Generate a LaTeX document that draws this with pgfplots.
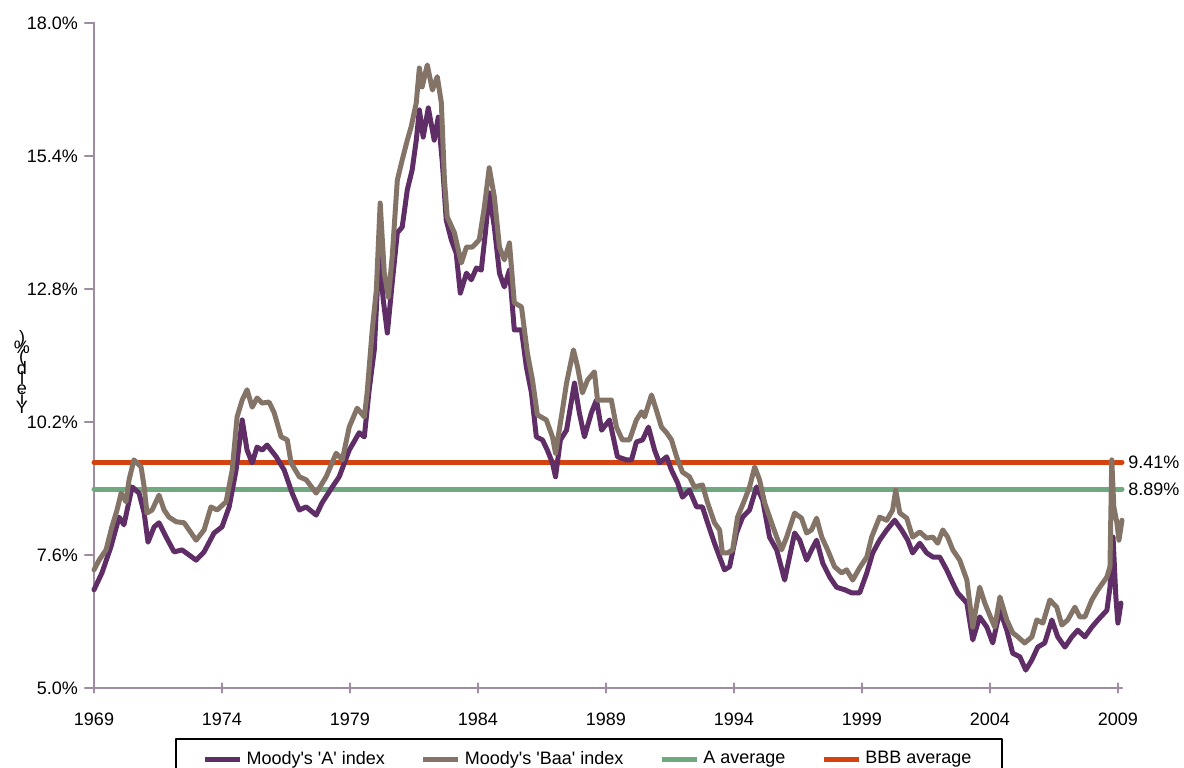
\documentclass[border=0pt]{standalone}
\usepackage{pgfplots}
\pgfplotsset{compat=1.18}
\usepackage{fontspec}
\setmainfont{Liberation Sans}
\definecolor{axcol}{RGB}{158,140,162}
\definecolor{Acol}{RGB}{96,46,102}
\definecolor{Baacol}{RGB}{132,116,104}
\definecolor{avgA}{RGB}{112,168,128}
\definecolor{avgB}{RGB}{212,66,16}
\begin{document}
\begin{tikzpicture}
\useasboundingbox (-47pt,-39.5pt) rectangle (545pt,344pt);
\begin{axis}[
  scale only axis, width=514pt, height=332.5pt,
  at={(0,0)}, anchor=south west,
  xmin=1969, xmax=2009.16, ymin=5, ymax=18,
  axis lines*=left,
  axis line style={axcol, line width=1.2pt},
  every tick/.style={axcol, line width=1.2pt},
  tick align=outside, major tick length=4.5pt,
  x tick style={yshift=2.25pt},
  xtick={1969,1974,1979,1984,1989,1994,1999,2004,2009},
  xticklabels={1969,1974,1979,1984,1989,1994,1999,2004,2009},
  ytick={5,7.6,10.2,12.8,15.4,18},
  yticklabels={5.0\%,7.6\%,10.2\%,12.8\%,15.4\%,18.0\%},
  tick label style={font=\fontsize{9}{11}\selectfont, black},
  xticklabel style={yshift=-4.5pt},
  yticklabel style={xshift=0pt},
  clip=false,
  legend columns=4,
  legend style={at={(0.4815,-0.0752)}, anchor=north, draw=black, line width=1pt,
    font=\fontsize{9}{11}\selectfont, inner xsep=13.5pt, inner ysep=4pt,
    /tikz/every even column/.append style={column sep=16pt}},
  legend image code/.code={\draw[#1] (0pt,0pt) -- (17.5pt,0pt);},
  line join=round, line cap=round,
]
\addplot[avgA, line width=2.5pt, forget plot] coordinates {(1969,8.89) (2009.16,8.89)};
\addplot[avgB, line width=2.5pt, forget plot] coordinates {(1969,9.41) (2009.16,9.41)};
\addplot[Acol, line width=2.5pt] coordinates {
(1969.00,6.92) (1969.31,7.25) (1969.66,7.76) (1969.98,8.34) (1970.17,8.19) (1970.49,8.93) (1970.76,8.81) (1970.96,8.42) (1971.11,7.85) (1971.35,8.15) (1971.54,8.23) (1971.82,7.95) (1972.13,7.66) (1972.44,7.70) (1972.99,7.50) (1973.30,7.66) (1973.69,8.03) (1974.00,8.15) (1974.28,8.54) (1974.55,9.26) (1974.79,10.24) (1974.98,9.65) (1975.18,9.40) (1975.37,9.71) (1975.57,9.65) (1975.76,9.75) (1976.12,9.52) (1976.43,9.26) (1976.74,8.81) (1977.02,8.48) (1977.29,8.54) (1977.68,8.38) (1977.91,8.62) (1978.31,8.93) (1978.58,9.13) (1978.97,9.65) (1979.36,9.99) (1979.56,9.91) (1979.75,10.83) (1979.95,11.61) (1980.14,13.50) (1980.30,12.59) (1980.46,11.94) (1980.65,12.92) (1980.85,13.90) (1981.04,14.01) (1981.24,14.74) (1981.43,15.13) (1981.59,15.71) (1981.71,16.30) (1981.86,15.77) (1982.06,16.34) (1982.29,15.71) (1982.45,16.16) (1982.61,15.26) (1982.76,14.15) (1982.96,13.76) (1983.15,13.50) (1983.31,12.72) (1983.55,13.11) (1983.74,12.98) (1983.94,13.21) (1984.13,13.17) (1984.29,13.90) (1984.44,14.68) (1984.64,14.01) (1984.84,13.11) (1985.03,12.84) (1985.23,13.17) (1985.42,12.00) (1985.70,12.00) (1985.89,11.28) (1986.09,10.77) (1986.28,9.91) (1986.52,9.85) (1986.71,9.65) (1986.91,9.40) (1987.03,9.13) (1987.22,9.85) (1987.46,10.04) (1987.77,10.96) (1987.96,10.38) (1988.16,9.91) (1988.43,10.38) (1988.63,10.63) (1988.83,10.04) (1989.14,10.24) (1989.45,9.52) (1989.80,9.46) (1990.00,9.46) (1990.19,9.81) (1990.43,9.85) (1990.66,10.10) (1990.90,9.65) (1991.09,9.40) (1991.37,9.52) (1991.56,9.26) (1991.80,9.01) (1991.99,8.73) (1992.26,8.87) (1992.54,8.54) (1992.77,8.54) (1992.97,8.23) (1993.24,7.83) (1993.44,7.56) (1993.63,7.31) (1993.83,7.37) (1994.10,8.03) (1994.34,8.34) (1994.61,8.48) (1994.88,8.93) (1995.12,8.68) (1995.39,7.95) (1995.67,7.70) (1995.98,7.11) (1996.17,7.56) (1996.37,8.03) (1996.57,7.89) (1996.84,7.50) (1997.03,7.70) (1997.23,7.89) (1997.47,7.44) (1997.74,7.17) (1998.01,6.97) (1998.33,6.92) (1998.60,6.86) (1998.91,6.86) (1999.19,7.25) (1999.42,7.64) (1999.69,7.89) (1999.97,8.09) (2000.28,8.28) (2000.55,8.09) (2000.79,7.89) (2000.98,7.64) (2001.26,7.83) (2001.53,7.64) (2001.77,7.56) (2002.04,7.56) (2002.31,7.31) (2002.55,7.05) (2002.74,6.86) (2003.10,6.66) (2003.33,5.94) (2003.60,6.39) (2003.88,6.19) (2004.11,5.88) (2004.39,6.52) (2004.66,6.13) (2004.89,5.68) (2005.17,5.61) (2005.40,5.35) (2005.64,5.55) (2005.87,5.80) (2006.14,5.88) (2006.42,6.33) (2006.65,6.00) (2006.93,5.80) (2007.20,6.00) (2007.43,6.13) (2007.71,6.00) (2007.98,6.19) (2008.22,6.33) (2008.57,6.52) (2008.69,6.97) (2008.81,7.95) (2008.92,6.78) (2009.00,6.27) (2009.12,6.66)
};
\addlegendentry{Moody\textquotesingle s \textquotesingle A\textquotesingle\ index}
\addplot[Baacol, line width=2.5pt] coordinates {
(1969.00,7.31) (1969.20,7.50) (1969.47,7.70) (1969.70,8.15) (1969.90,8.48) (1970.06,8.81) (1970.25,8.64) (1970.37,9.07) (1970.56,9.46) (1970.84,9.32) (1970.96,8.93) (1971.07,8.42) (1971.27,8.48) (1971.54,8.77) (1971.74,8.48) (1971.93,8.34) (1972.21,8.25) (1972.52,8.23) (1972.99,7.89) (1973.30,8.09) (1973.57,8.54) (1973.81,8.48) (1974.16,8.64) (1974.40,9.26) (1974.59,10.30) (1974.79,10.63) (1974.98,10.83) (1975.18,10.49) (1975.37,10.67) (1975.57,10.57) (1975.84,10.59) (1976.04,10.38) (1976.31,9.91) (1976.55,9.85) (1976.70,9.40) (1977.02,9.13) (1977.29,9.07) (1977.68,8.81) (1978.07,9.13) (1978.46,9.59) (1978.70,9.46) (1978.97,10.10) (1979.28,10.47) (1979.56,10.30) (1979.67,10.77) (1979.87,12.00) (1980.03,12.78) (1980.18,14.48) (1980.34,13.11) (1980.50,12.64) (1980.65,13.43) (1980.85,14.93) (1981.04,15.32) (1981.24,15.71) (1981.39,15.97) (1981.59,16.44) (1981.71,17.12) (1981.82,16.75) (1982.02,17.18) (1982.22,16.69) (1982.41,16.95) (1982.57,16.44) (1982.69,14.93) (1982.80,14.21) (1983.08,13.90) (1983.35,13.31) (1983.55,13.62) (1983.78,13.62) (1984.05,13.76) (1984.25,14.40) (1984.44,15.17) (1984.64,14.60) (1984.84,13.62) (1985.03,13.37) (1985.23,13.70) (1985.42,12.53) (1985.70,12.45) (1985.93,11.55) (1986.13,11.02) (1986.32,10.34) (1986.67,10.24) (1986.91,9.91) (1987.03,9.59) (1987.30,10.43) (1987.46,10.96) (1987.73,11.61) (1987.89,11.28) (1988.08,10.77) (1988.28,11.02) (1988.55,11.18) (1988.67,10.63) (1988.94,10.63) (1989.21,10.63) (1989.41,10.10) (1989.64,9.85) (1989.92,9.85) (1990.19,10.24) (1990.39,10.40) (1990.51,10.30) (1990.78,10.73) (1990.97,10.43) (1991.17,10.10) (1991.37,9.99) (1991.56,9.85) (1991.76,9.52) (1991.99,9.22) (1992.26,9.13) (1992.46,8.93) (1992.77,8.97) (1992.97,8.62) (1993.24,8.23) (1993.44,8.09) (1993.55,7.64) (1993.75,7.64) (1993.95,7.70) (1994.14,8.34) (1994.42,8.68) (1994.61,8.93) (1994.81,9.32) (1995.00,9.07) (1995.20,8.62) (1995.47,8.23) (1995.67,7.95) (1995.86,7.70) (1996.06,7.95) (1996.37,8.42) (1996.64,8.32) (1996.84,8.03) (1997.03,8.09) (1997.23,8.32) (1997.43,7.95) (1997.66,7.70) (1997.93,7.37) (1998.21,7.25) (1998.40,7.31) (1998.64,7.11) (1998.91,7.35) (1999.19,7.56) (1999.38,7.95) (1999.69,8.34) (1999.97,8.28) (2000.20,8.48) (2000.32,8.87) (2000.48,8.42) (2000.75,8.32) (2000.98,7.95) (2001.26,8.05) (2001.53,7.93) (2001.77,7.95) (2001.96,7.83) (2002.16,8.09) (2002.35,7.95) (2002.55,7.70) (2002.82,7.50) (2003.10,7.11) (2003.33,6.19) (2003.60,6.97) (2003.80,6.66) (2004.07,6.33) (2004.19,6.19) (2004.39,6.78) (2004.66,6.33) (2004.89,6.08) (2005.09,6.00) (2005.36,5.88) (2005.64,6.00) (2005.83,6.33) (2006.07,6.27) (2006.34,6.72) (2006.61,6.58) (2006.81,6.23) (2007.04,6.33) (2007.32,6.58) (2007.51,6.39) (2007.71,6.39) (2007.98,6.72) (2008.22,6.92) (2008.57,7.17) (2008.69,7.37) (2008.76,9.46) (2008.84,8.54) (2008.96,8.23) (2009.04,7.89) (2009.16,8.28)
};
\addlegendentry{Moody\textquotesingle s \textquotesingle Baa\textquotesingle\ index}
\addlegendimage{avgA, line width=2.5pt}
\addlegendentry{A average}
\addlegendimage{avgB, line width=2.5pt}
\addlegendentry{BBB average}
\node[anchor=west, font=\fontsize{9}{11}\selectfont, inner sep=1pt, xshift=2pt] at (axis cs:2009.16,9.41) {9.41\%};
\node[anchor=west, font=\fontsize{9}{11}\selectfont, inner sep=1pt, xshift=2pt] at (axis cs:2009.16,8.89) {8.89\%};
\end{axis}
\node[align=center, inner sep=0pt, font={\fontsize{9}{4.9}\selectfont\lineskiplimit=-100pt\relax}] at (-36pt,158pt) {)\\\%\\(\\[1pt]d\\l\\e\\i\\Y};
\end{tikzpicture}
\end{document}
